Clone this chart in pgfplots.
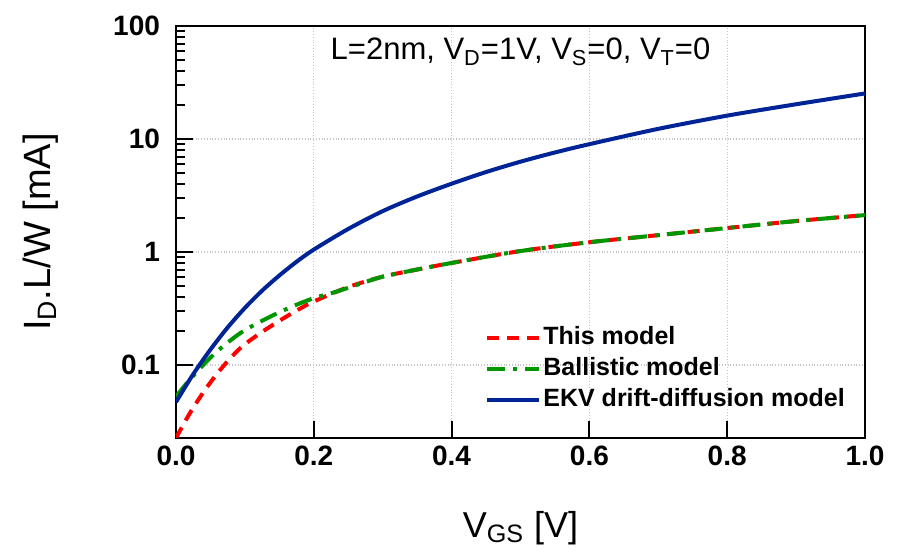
\documentclass[border=0pt]{standalone}
\usepackage{fontspec}
\setmainfont{Liberation Sans}
\usepackage{pgfplots}
\pgfplotsset{compat=1.18}
\definecolor{cred}{RGB}{255,0,0}
\definecolor{cgreen}{RGB}{0,150,0}
\definecolor{cblue}{RGB}{0,36,150}
\begin{document}
\begin{tikzpicture}
\begin{axis}[
  name=ax,
  scale only axis,
  width=344.5pt, height=206pt,
  xmin=0, xmax=1,
  ymode=log, ymin=0.0226, ymax=100,
  xtick={0,0.2,0.4,0.6,0.8,1.0},
  xticklabels={0.0,0.2,0.4,0.6,0.8,1.0},
  ytick={0.1,1,10,100},
  yticklabels={0.1,1,10,100},
  /pgf/number format/assume math mode=true,
  tick align=inside,
  xtick pos=bottom, ytick pos=left,
  major tick length=8.5pt, minor tick length=4.5pt,
  every tick/.style={black, line width=1pt},
  axis line style={line width=1pt},
  grid=major,
  major grid style={densely dotted, gray!45, line width=0.6pt},
  ticklabel style={font=\fontsize{14}{16}\selectfont\bfseries},
  yticklabel style={xshift=-4.5pt},
  xticklabel style={yshift=-0.5pt},
  xlabel={V\textsubscript{GS} [V]},
  ylabel={I\textsubscript{D}.L/W [mA]},
  xlabel style={font=\fontsize{18}{20}\selectfont, at={(axis description cs:0.5,-0.218)}, anchor=center},
  ylabel style={font=\fontsize{19}{21}\selectfont, at={(axis description cs:-0.197,0.5)}, anchor=center},
  legend cell align=left,
  legend style={draw=none, fill=none, at={(axis description cs:0.4485,0.168)}, anchor=west,
    inner sep=0pt, row sep=2pt,
    font=\fontsize{12.5}{15}\selectfont\bfseries,
    nodes={inner sep=1pt, text height=9pt, text depth=2.5pt}},
  legend image code/.code={\draw[#1] (0pt,0pt) -- (26pt,0pt);},
]
\addplot[cred, line width=2pt, dash pattern=on 6pt off 4pt, smooth] coordinates {
(0,0.0226) (0.02,0.0374) (0.042,0.060) (0.066,0.0935) (0.093,0.1405) (0.122,0.191)
(0.156,0.259) (0.185,0.328) (0.2,0.365) (0.25,0.49) (0.3,0.605) (0.35,0.70) (0.4,0.80)
(0.5,1.02) (0.6,1.22) (0.7,1.41) (0.8,1.63) (0.9,1.88) (1.0,2.12)};
\addlegendentry{This model}
\addplot[cgreen, line width=2pt, dash pattern=on 9pt off 4pt on 2pt off 4pt, smooth] coordinates {
(0,0.0525) (0.0155,0.0689) (0.035,0.0935) (0.059,0.131) (0.093,0.191) (0.127,0.25)
(0.163,0.318) (0.199,0.389) (0.233,0.446) (0.27,0.53) (0.3,0.605) (0.35,0.70) (0.4,0.80)
(0.5,1.02) (0.6,1.22) (0.7,1.41) (0.8,1.63) (0.9,1.88) (1.0,2.12)};
\addlegendentry{Ballistic model}
\addplot[cblue, line width=2pt, smooth] coordinates {
(0,0.047) (0.025,0.083) (0.05,0.137) (0.075,0.215) (0.1,0.32) (0.125,0.455) (0.15,0.62)
(0.175,0.82) (0.2,1.05) (0.25,1.6) (0.3,2.3) (0.35,3.1) (0.4,4.02) (0.45,5.1) (0.5,6.3)
(0.55,7.6) (0.6,9.0) (0.7,12.3) (0.8,16.1) (0.9,20.3) (1.0,25.3)};
\addlegendentry{EKV drift-diffusion model}
\node[anchor=base, font=\fontsize{15.5}{18}\selectfont] at (axis description cs:0.5,0.9175)
  {L=2nm, V\textsubscript{D}=1V, V\textsubscript{S}=0, V\textsubscript{T}=0};
\end{axis}
\pgfresetboundingbox
\path[use as bounding box] ([xshift=-88pt,yshift=-61pt]ax.south west) rectangle ([xshift=16.5pt,yshift=13pt]ax.north east);
\end{tikzpicture}
\end{document}
